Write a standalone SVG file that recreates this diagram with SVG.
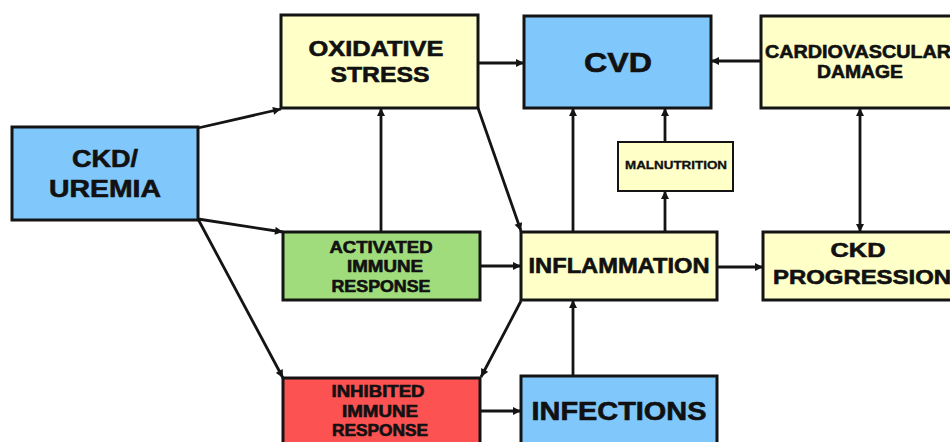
<svg xmlns="http://www.w3.org/2000/svg" width="950" height="442" viewBox="0 0 950 442">
<style>
.box{stroke:#141414;stroke-width:3}
.blue{fill:#80c8fc}
.yellow{fill:#ffffc8}
.green{fill:#a0dc7c}
.red{fill:#fc5252}
text{font-family:"Liberation Sans",Arial,sans-serif;font-weight:bold;fill:#111;stroke:#111;stroke-width:0.6;text-anchor:middle}
.conn line{stroke:#141414;stroke-width:2.8;fill:none}
</style>
<defs>
<marker id="ah" viewBox="0 0 10 10" refX="10" refY="5" markerWidth="9" markerHeight="8" markerUnits="userSpaceOnUse" orient="auto-start-reverse">
<path d="M0,0 L10,5 L0,10 z" fill="#141414"/>
</marker>
</defs>
<rect width="950" height="442" fill="#ffffff"/>

<g class="conn" id="connectors">
<line x1="198" y1="128" x2="281" y2="109" marker-end="url(#ah)"/>
<line x1="198" y1="219" x2="283" y2="232" marker-end="url(#ah)"/>
<line x1="198" y1="219" x2="283" y2="378" marker-end="url(#ah)"/>
<line x1="381" y1="232" x2="381" y2="108" marker-end="url(#ah)"/>
<line x1="478" y1="63" x2="524" y2="63" marker-end="url(#ah)"/>
<line x1="478" y1="108" x2="521" y2="231" marker-end="url(#ah)"/>
<line x1="761" y1="61" x2="711" y2="61" marker-end="url(#ah)"/>
<line x1="573" y1="232" x2="573" y2="108" marker-end="url(#ah)"/>
<line x1="665" y1="232" x2="665" y2="191" marker-end="url(#ah)"/>
<line x1="665" y1="142" x2="665" y2="108" marker-end="url(#ah)"/>
<line x1="860" y1="108" x2="860" y2="232" marker-start="url(#ah)" marker-end="url(#ah)"/>
<line x1="480" y1="266" x2="521" y2="266" marker-end="url(#ah)"/>
<line x1="717" y1="267" x2="763" y2="267" marker-end="url(#ah)"/>
<line x1="521" y1="301" x2="481" y2="377" marker-end="url(#ah)"/>
<line x1="573" y1="376" x2="573" y2="300" marker-end="url(#ah)"/>
<line x1="480" y1="411" x2="521" y2="411" marker-end="url(#ah)"/>
</g>

<g id="ckd-uremia">
<rect class="box blue" x="12" y="127" width="186" height="93"/>
<text x="105" y="167" font-size="24" textLength="66" lengthAdjust="spacingAndGlyphs">CKD/</text>
<text x="105" y="197" font-size="24" textLength="112" lengthAdjust="spacingAndGlyphs">UREMIA</text>
</g>

<g id="oxidative-stress">
<rect class="box yellow" x="281" y="15" width="197" height="93"/>
<text x="376" y="56" font-size="22" textLength="135" lengthAdjust="spacingAndGlyphs">OXIDATIVE</text>
<text x="380" y="82" font-size="22" textLength="99" lengthAdjust="spacingAndGlyphs">STRESS</text>
</g>

<g id="cvd">
<rect class="box blue" x="524" y="16" width="187" height="92"/>
<text x="618" y="72" font-size="28" textLength="68" lengthAdjust="spacingAndGlyphs">CVD</text>
</g>

<g id="cardiovascular-damage">
<rect class="box yellow" x="761" y="16" width="200" height="92"/>
<text x="858" y="58" font-size="18" textLength="186" lengthAdjust="spacingAndGlyphs">CARDIOVASCULAR</text>
<text x="860" y="78" font-size="18" textLength="86" lengthAdjust="spacingAndGlyphs">DAMAGE</text>
</g>

<g id="malnutrition">
<rect class="box yellow" x="618" y="142" width="115" height="49" style="stroke-width:2"/>
<text x="676" y="169" font-size="11" textLength="102" lengthAdjust="spacingAndGlyphs" style="stroke-width:0.3">MALNUTRITION</text>
</g>

<g id="activated-immune-response">
<rect class="box green" x="283" y="232" width="197" height="68"/>
<text x="381" y="253" font-size="16" textLength="103" lengthAdjust="spacingAndGlyphs">ACTIVATED</text>
<text x="385" y="272" font-size="16" textLength="76" lengthAdjust="spacingAndGlyphs">IMMUNE</text>
<text x="381" y="292" font-size="16" textLength="99" lengthAdjust="spacingAndGlyphs">RESPONSE</text>
</g>

<g id="inflammation">
<rect class="box yellow" x="521" y="232" width="196" height="68"/>
<text x="619" y="273" font-size="22" textLength="181" lengthAdjust="spacingAndGlyphs">INFLAMMATION</text>
</g>

<g id="ckd-progression">
<rect class="box yellow" x="763" y="232" width="200" height="68"/>
<text x="858" y="257" font-size="20" textLength="55" lengthAdjust="spacingAndGlyphs">CKD</text>
<text x="862" y="284" font-size="20" textLength="178" lengthAdjust="spacingAndGlyphs">PROGRESSION</text>
</g>

<g id="inhibited-immune-response">
<rect class="box red" x="283" y="378" width="197" height="80"/>
<text x="378" y="397" font-size="16" textLength="93" lengthAdjust="spacingAndGlyphs">INHIBITED</text>
<text x="380" y="417" font-size="16" textLength="76" lengthAdjust="spacingAndGlyphs">IMMUNE</text>
<text x="380" y="436" font-size="16" textLength="96" lengthAdjust="spacingAndGlyphs">RESPONSE</text>
</g>

<g id="infections">
<rect class="box blue" x="521" y="376" width="196" height="80"/>
<text x="619" y="420" font-size="25" textLength="175" lengthAdjust="spacingAndGlyphs">INFECTIONS</text>
</g>
</svg>
